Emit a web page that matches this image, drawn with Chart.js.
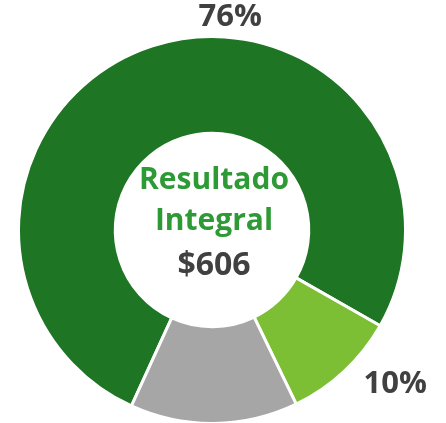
<!DOCTYPE html>
<html>
<head>
<meta charset="utf-8">
<script src="https://cdn.jsdelivr.net/npm/chart.js@4"></script>
<style>
    html, body { margin: 0; padding: 0; background: #ffffff; overflow: hidden; }
    #wrap { position: absolute; left: 0; top: 0; width: 446px; height: 462px; }
</style>
</head>
<body>
<div id="wrap"><canvas id="donut"></canvas></div>
<script>
// Data
const categories = ['Resultado Integral', 'Otro', 'Resto'];
const shares = [76.4, 9.6, 14.0];
const sliceColors = ['#1E7523', '#7CBE34', '#A6A6A6'];
const centerLines = ['Resultado', 'Integral', '$606'];

// Label placement tweaks (degrees added to mid angle, gap beyond outer edge)
const labelAngleShift = [22.8, -6.8, 0];
const labelGap = [20, 46, 24];

const centerText = {
    id: 'centerText',
    afterDraw(chart) {
        const arc = chart.getDatasetMeta(0).data[0];
        const ctx = chart.ctx;
        ctx.save();
        ctx.textAlign = 'center';
        ctx.textBaseline = 'middle';
        const offsets = [-50, -9, 36];
        centerLines.forEach((line, i) => {
            ctx.font = i < 2 ? 'bold 30px "Open Sans"' : 'bold 32px "Open Sans"';
            ctx.fillStyle = i < 2 ? '#2E9A35' : '#404040';
            ctx.fillText(line, arc.x + 2, arc.y + offsets[i]);
        });
        ctx.restore();
    }
};

const outerLabels = {
    id: 'outerLabels',
    afterDraw(chart) {
        const meta = chart.getDatasetMeta(0);
        const ctx = chart.ctx;
        ctx.save();
        ctx.textAlign = 'center';
        ctx.textBaseline = 'middle';
        ctx.font = 'bold 31px "Open Sans"';
        ctx.fillStyle = '#404040';
        meta.data.forEach((arc, i) => {
            const mid = (arc.startAngle + arc.endAngle) / 2 + labelAngleShift[i] * Math.PI / 180;
            const r = arc.outerRadius + labelGap[i];
            ctx.fillText(Math.round(shares[i]) + '%', arc.x + Math.cos(mid) * r, arc.y + Math.sin(mid) * r);
        });
        ctx.restore();
    }
};

new Chart(document.getElementById('donut'), {
    type: 'doughnut',
    data: {
        labels: categories,
        datasets: [{
            data: shares,
            backgroundColor: sliceColors,
            borderColor: '#ffffff',
            borderWidth: 3
        }]
    },
    options: {
        responsive: true,
        maintainAspectRatio: false,
        animation: false,
        rotation: 204.6,
        cutout: '50%',
        layout: { padding: { left: 17, right: 39, top: 35, bottom: 37 } },
        plugins: {
            legend: { display: false },
            tooltip: { enabled: false }
        }
    },
    plugins: [centerText, outerLabels]
});
</script>
</body>
</html>
